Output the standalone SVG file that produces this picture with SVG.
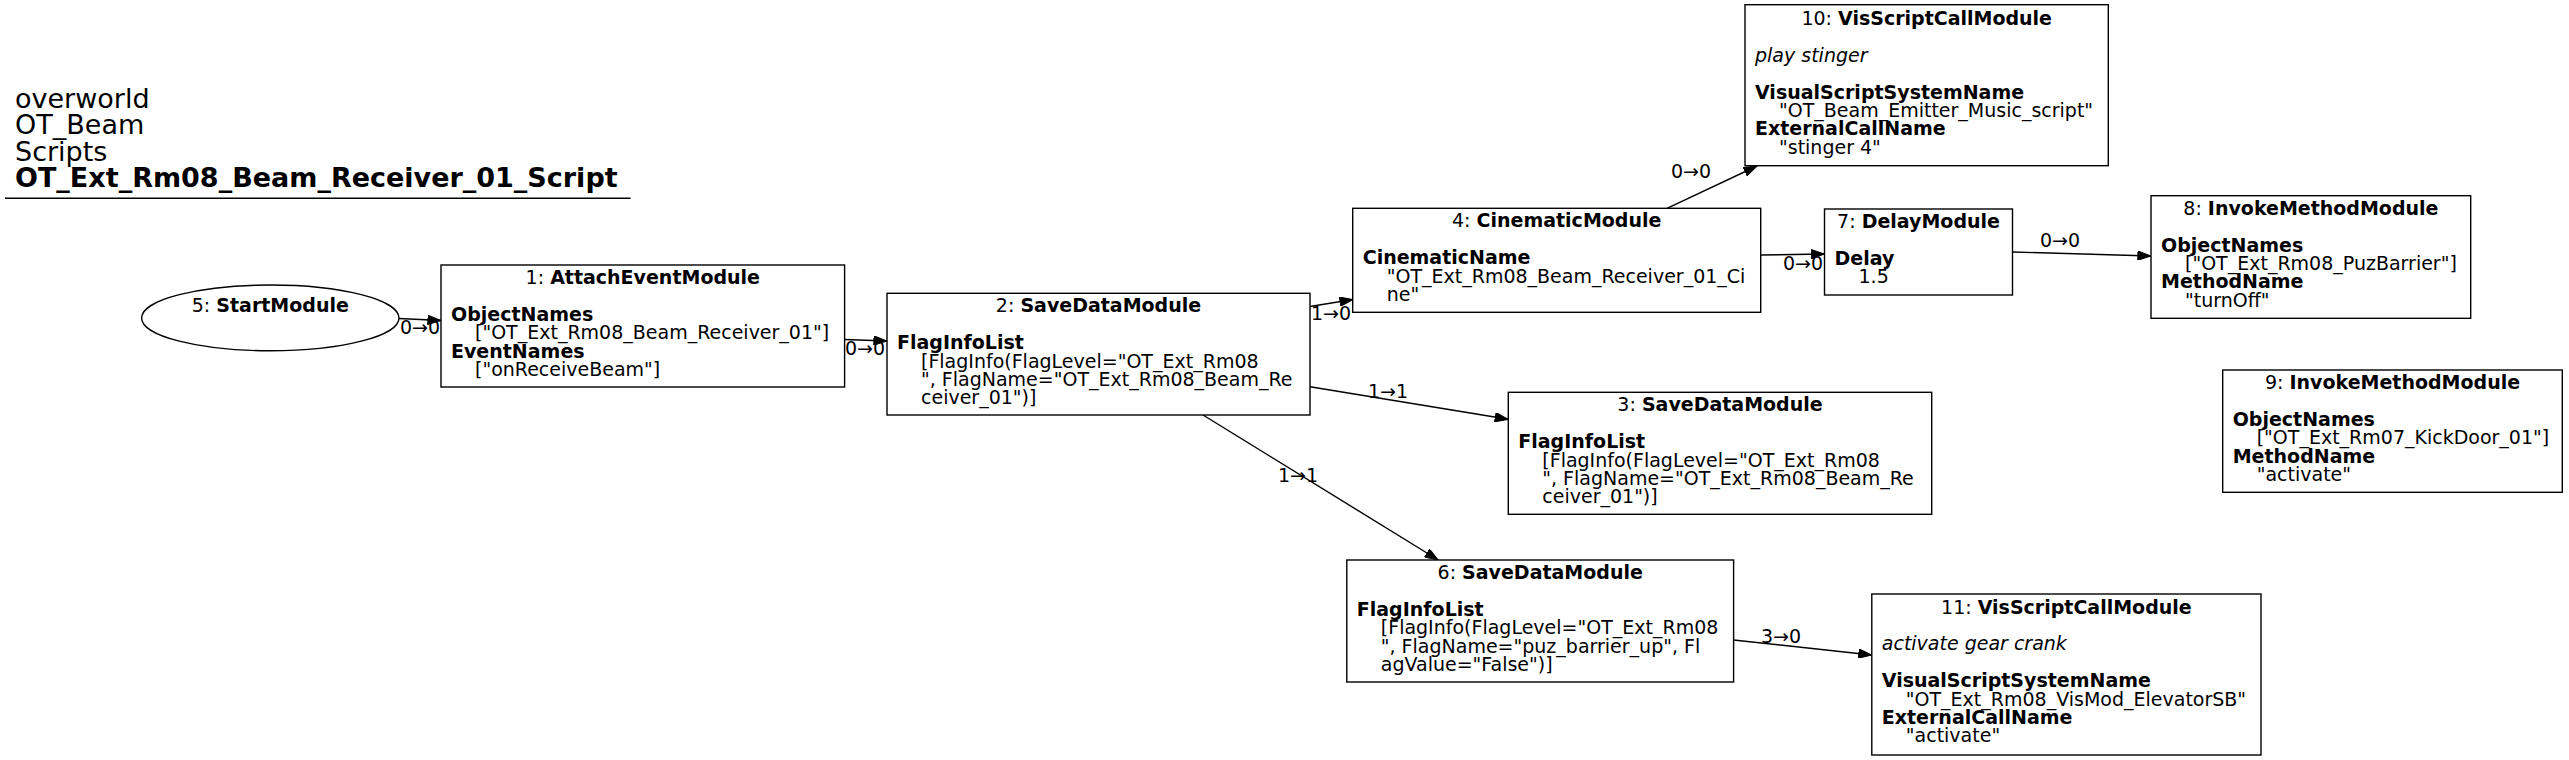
<svg xmlns="http://www.w3.org/2000/svg" width="2569" height="760" viewBox="0 0 2569 760">
<style>
text{font-family:"DejaVu Sans","Liberation Sans",sans-serif;font-size:19px;fill:#000}
.t{font-size:27px}
.b{font-weight:bold}
.i{font-style:italic}
.c{text-anchor:middle}
.n{fill:#fff;stroke:#000;stroke-width:1.4}
.e{fill:none;stroke:#000;stroke-width:1.4;marker-end:url(#ah)}
</style>
<defs>
<marker id="ah" viewBox="0 0 14 10" refX="14" refY="5" markerWidth="14" markerHeight="9.4" markerUnits="userSpaceOnUse" orient="auto">
<path d="M0,0 L14,5 L0,10 z" fill="#000" stroke="#000" stroke-width="1"/>
</marker>
</defs>
<rect x="0" y="0" width="2569" height="760" fill="#fff"/>
<g id="title">
<text class="t" x="15" y="107.5">overworld</text>
<text class="t" x="15" y="134">OT_Beam</text>
<text class="t" x="15" y="160.5">Scripts</text>
<text class="t b" x="15" y="187">OT_Ext_Rm08_Beam_Receiver_01_Script</text>
<line x1="5" y1="198.3" x2="630.6" y2="198.3" stroke="#000" stroke-width="1.4"/>
</g>
<g id="connectors">
<path class="e" d="M398.8,318.5 L441,320.5"/>
<text x="400" y="334">0→0</text>
<path class="e" d="M844.6,339.5 L887,341"/>
<text x="845" y="355">0→0</text>
<path class="e" d="M1310,306.5 L1353,299.5"/>
<text x="1311" y="320">1→0</text>
<path class="e" d="M1310,386.8 L1508.3,419.3"/>
<text x="1368" y="398">1→1</text>
<path class="e" d="M1203,415 L1438.3,560"/>
<text x="1278" y="482">1→1</text>
<path class="e" d="M1667,208.3 L1757,166"/>
<text x="1671" y="178">0→0</text>
<path class="e" d="M1760.7,255 L1824.5,254"/>
<text x="1783" y="270">0→0</text>
<path class="e" d="M2012.5,252 L2151,256"/>
<text x="2040" y="247">0→0</text>
<path class="e" d="M1733.6,640 L1871.8,655"/>
<text x="1761" y="643">3→0</text>
</g>
<g id="node5">
<ellipse class="n" cx="270.3" cy="317.9" rx="128.7" ry="32.9"/>
<text class="c" x="270.3" y="311.7">5: <tspan class="b">StartModule</tspan></text>
</g>
<g id="node1">
<rect class="n" x="441" y="265" width="403.6" height="122"/>
<text class="c" x="642.8" y="284">1: <tspan class="b">AttachEventModule</tspan></text>
<text class="b" x="451" y="320.8">ObjectNames</text>
<text x="475" y="339.2">["OT_Ext_Rm08_Beam_Receiver_01"]</text>
<text class="b" x="451" y="357.6">EventNames</text>
<text x="475" y="376">["onReceiveBeam"]</text>
</g>
<g id="node2">
<rect class="n" x="887" y="293.3" width="423" height="121.7"/>
<text class="c" x="1098.5" y="312.3">2: <tspan class="b">SaveDataModule</tspan></text>
<text class="b" x="897" y="349.1">FlagInfoList</text>
<text x="921" y="367.5">[FlagInfo(FlagLevel="OT_Ext_Rm08</text>
<text x="921" y="385.9">", FlagName="OT_Ext_Rm08_Beam_Re</text>
<text x="921" y="404.3">ceiver_01")]</text>
</g>
<g id="node4">
<rect class="n" x="1352.7" y="208.3" width="408" height="104"/>
<text class="c" x="1556.7" y="227.3">4: <tspan class="b">CinematicModule</tspan></text>
<text class="b" x="1362.7" y="264.1">CinematicName</text>
<text x="1386.7" y="282.5">"OT_Ext_Rm08_Beam_Receiver_01_Ci</text>
<text x="1386.7" y="300.9">ne"</text>
</g>
<g id="node10">
<rect class="n" x="1745" y="4.7" width="363.3" height="161"/>
<text class="c" x="1926.7" y="25">10: <tspan class="b">VisScriptCallModule</tspan></text>
<text class="i" x="1755" y="61.8">play stinger</text>
<text class="b" x="1755" y="98.6">VisualScriptSystemName</text>
<text x="1779" y="117">"OT_Beam_Emitter_Music_script"</text>
<text class="b" x="1755" y="135.4">ExternalCallName</text>
<text x="1779" y="153.6">"stinger 4"</text>
</g>
<g id="node7">
<rect class="n" x="1824.5" y="209" width="188" height="86"/>
<text class="c" x="1918.5" y="228">7: <tspan class="b">DelayModule</tspan></text>
<text class="b" x="1834.5" y="264.8">Delay</text>
<text x="1858.5" y="283.2">1.5</text>
</g>
<g id="node8">
<rect class="n" x="2151" y="195.7" width="319.7" height="122.6"/>
<text class="c" x="2310.9" y="214.7">8: <tspan class="b">InvokeMethodModule</tspan></text>
<text class="b" x="2161" y="251.5">ObjectNames</text>
<text x="2185" y="269.9">["OT_Ext_Rm08_PuzBarrier"]</text>
<text class="b" x="2161" y="288.3">MethodName</text>
<text x="2185" y="306.7">"turnOff"</text>
</g>
<g id="node9">
<rect class="n" x="2222.7" y="370" width="339.6" height="122.3"/>
<text class="c" x="2392.5" y="389">9: <tspan class="b">InvokeMethodModule</tspan></text>
<text class="b" x="2232.7" y="425.8">ObjectNames</text>
<text x="2256.7" y="444.2">["OT_Ext_Rm07_KickDoor_01"]</text>
<text class="b" x="2232.7" y="462.6">MethodName</text>
<text x="2256.7" y="481">"activate"</text>
</g>
<g id="node3">
<rect class="n" x="1508.3" y="392.3" width="423.4" height="122"/>
<text class="c" x="1720" y="411.3">3: <tspan class="b">SaveDataModule</tspan></text>
<text class="b" x="1518.3" y="448.1">FlagInfoList</text>
<text x="1542.3" y="466.5">[FlagInfo(FlagLevel="OT_Ext_Rm08</text>
<text x="1542.3" y="484.9">", FlagName="OT_Ext_Rm08_Beam_Re</text>
<text x="1542.3" y="503.3">ceiver_01")]</text>
</g>
<g id="node6">
<rect class="n" x="1346.8" y="560" width="386.8" height="122"/>
<text class="c" x="1540.2" y="579">6: <tspan class="b">SaveDataModule</tspan></text>
<text class="b" x="1356.8" y="615.8">FlagInfoList</text>
<text x="1380.8" y="634.2">[FlagInfo(FlagLevel="OT_Ext_Rm08</text>
<text x="1380.8" y="652.6">", FlagName="puz_barrier_up", Fl</text>
<text x="1380.8" y="671">agValue="False")]</text>
</g>
<g id="node11">
<rect class="n" x="1871.8" y="594" width="389.2" height="161"/>
<text class="c" x="2066.4" y="613.5">11: <tspan class="b">VisScriptCallModule</tspan></text>
<text class="i" x="1881.8" y="650.3">activate gear crank</text>
<text class="b" x="1881.8" y="687.1">VisualScriptSystemName</text>
<text x="1905.8" y="705.5">"OT_Ext_Rm08_VisMod_ElevatorSB"</text>
<text class="b" x="1881.8" y="723.9">ExternalCallName</text>
<text x="1905.8" y="742.3">"activate"</text>
</g>
</svg>
